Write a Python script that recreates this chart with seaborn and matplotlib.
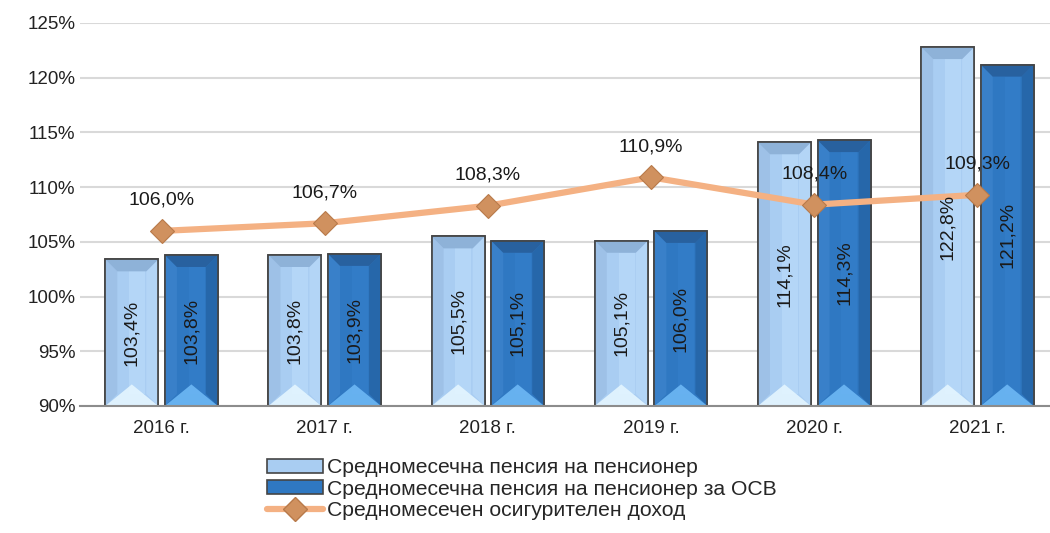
import numpy as np
import pandas as pd
import matplotlib
matplotlib.use("Agg")
import matplotlib.pyplot as plt
from matplotlib.patches import Polygon, Rectangle
from matplotlib.lines import Line2D
import seaborn as sns

years = ["2016 г.", "2017 г.", "2018 г.", "2019 г.", "2020 г.", "2021 г."]
pension = [103.4, 103.8, 105.5, 105.1, 114.1, 122.8]
pension_osv = [103.8, 103.9, 105.1, 106.0, 114.3, 121.2]
income = [106.0, 106.7, 108.3, 110.9, 108.4, 109.3]
series_names = ["Средномесечна пенсия на пенсионер",
                "Средномесечна пенсия на пенсионер за ОСВ",
                "Средномесечен осигурителен доход"]
yticks = [90, 95, 100, 105, 110, 115, 120, 125]

sns.set_theme(style="white")
plt.rcParams['font.family'] = ['Liberation Sans', 'DejaVu Sans']

light_col = "#A9CDF2"
dark_col = "#2F78C2"
line_col = "#F4B183"
marker_col = "#D0915F"
edge_col = "#454545"

df = pd.DataFrame({
    "year": years * 2,
    "value": pension + pension_osv,
    "series": [series_names[0]] * 6 + [series_names[1]] * 6,
})

fig = plt.figure(figsize=(10.5, 5.33), dpi=100)
ax = fig.add_axes([80 / 1050, 1 - 406 / 533, (1059 - 80) / 1050, (406 - 23) / 533])

sns.barplot(data=df, x="year", y="value", hue="series", order=years,
            hue_order=series_names[:2], palette=[light_col, dark_col],
            saturation=1, width=0.73, gap=0.11, ax=ax, legend=False,
            edgecolor=edge_col, linewidth=1.2, zorder=2)

ymin = 90
ax.set_ylim(ymin, 125)
ax.set_xlim(-0.5, 5.5)
ax.set_yticks(yticks)
ax.set_yticklabels([f"{t}%" for t in yticks])
ax.grid(axis="y", color="#D9D9D9", linewidth=1.5, zorder=0)
ax.set_axisbelow(True)
for s in ["left", "right", "top"]:
    ax.spines[s].set_visible(False)
ax.spines["bottom"].set_color("#8C8C8C")
ax.spines["bottom"].set_linewidth(1.5)
ax.spines["bottom"].set_zorder(3)
ax.tick_params(axis="both", length=0, labelsize=13.5, colors="#222222")
ax.tick_params(axis="x", pad=10)
ax.set_xlabel("")
ax.set_ylabel("")

# bevel effect derived from bar geometry
fig.canvas.draw()
px_per_x = ax.transData.transform((1, 0))[0] - ax.transData.transform((0, 0))[0]
px_per_y = ax.transData.transform((0, 1))[1] - ax.transData.transform((0, 0))[1]
bx = 12 / px_per_x
by = 12 / px_per_y
bar_patches = [p for p in ax.patches if isinstance(p, Rectangle)]
for i, p in enumerate(bar_patches):
    x0, w = p.get_x(), p.get_width()
    y1 = p.get_y() + p.get_height()
    y0 = max(p.get_y(), ymin)
    x1 = x0 + w
    is_light = i < 6
    if is_light:
        top_c, bot_c, left_c, right_c, mid_c = "#8BAFD6", "#E4F6FF", "#9DC0E6", "#B5D6F7", "#BCDDFB"
    else:
        top_c, bot_c, left_c, right_c, mid_c = "#285F9C", "#6DB8F5", "#3B82CA", "#2666A8", "#3580CB"
    ax.add_patch(Rectangle((x0 + w * 0.45, y0 + by), w * 0.3, (y1 - y0) - 2 * by,
                           facecolor=mid_c, edgecolor="none", alpha=0.6, zorder=2.4))
    polys = [
        ([(x0, y0), (x0 + bx, y0 + by), (x0 + bx, y1 - by), (x0, y1)], left_c),
        ([(x1, y0), (x1 - bx, y0 + by), (x1 - bx, y1 - by), (x1, y1)], right_c),
        ([(x0, y1), (x1, y1), (x1 - bx, y1 - by), (x0 + bx, y1 - by)], top_c),
        ([(x0, y0), (x1, y0), (x0 + w / 2, y0 + by * 1.8)], bot_c),
    ]
    for pts, c in polys:
        ax.add_patch(Polygon(pts, closed=True, facecolor=c, edgecolor="none",
                             alpha=0.9, zorder=2.5))
    ax.add_patch(Rectangle((x0, y0), w, y1 - y0, facecolor="none", edgecolor=edge_col,
                           linewidth=1.2, zorder=2.6))
    ax.text(x0 + w / 2, (y0 + y1) / 2, f"{y1:.1f}%".replace(".", ","),
            rotation=90, ha="center", va="center", fontsize=14,
            color="#1A1A1A", zorder=5)

xpos = np.arange(len(years))
sns.lineplot(x=xpos, y=income, ax=ax, color=line_col, linewidth=4.5,
             marker="D", markersize=12, markerfacecolor=marker_col,
             markeredgecolor="#B87A4A", markeredgewidth=0.8, zorder=4)
for xi, v in zip(xpos, income):
    ax.annotate(f"{v:.1f}%".replace(".", ","), (xi, v), xytext=(0, 22),
                textcoords="offset points", ha="center", va="center",
                fontsize=14, color="#1A1A1A", zorder=6)

handles = [
    Rectangle((0, 0), 1, 1, facecolor=light_col, edgecolor=edge_col, linewidth=1.2),
    Rectangle((0, 0), 1, 1, facecolor=dark_col, edgecolor=edge_col, linewidth=1.2),
    Line2D([0], [0], color=line_col, linewidth=4.5, marker="D", markersize=12,
           markerfacecolor=marker_col, markeredgecolor="#B87A4A"),
]
fig.legend(handles, series_names, loc="upper center", bbox_to_anchor=(0.497, 0.16),
           frameon=False, fontsize=15.2, handlelength=2.65, handleheight=0.65,
           handletextpad=0.15, labelspacing=0.12, borderpad=0)

fig.savefig("out.png", dpi=100)
